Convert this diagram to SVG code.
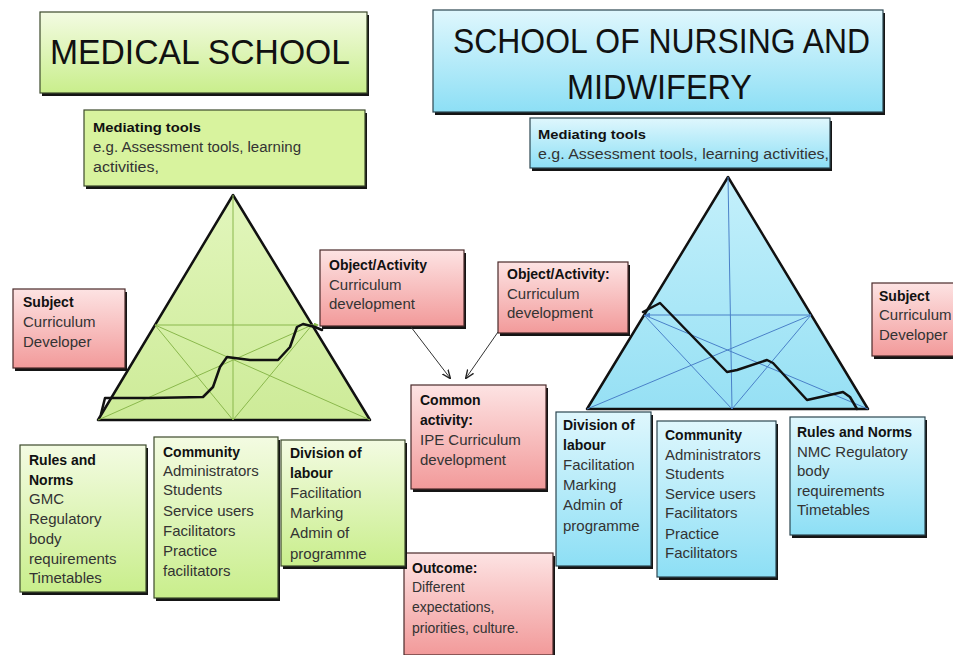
<svg xmlns="http://www.w3.org/2000/svg" width="953" height="655" viewBox="0 0 953 655">
<defs>
<linearGradient id="gG" x1="0" y1="0" x2="0" y2="1"><stop offset="0" stop-color="#f3fbe2"/><stop offset="1" stop-color="#c9ee8c"/></linearGradient>
<linearGradient id="gB" x1="0" y1="0" x2="0" y2="1"><stop offset="0" stop-color="#dff7fd"/><stop offset="1" stop-color="#8ddff5"/></linearGradient>
<linearGradient id="gR" x1="0" y1="0" x2="0" y2="1"><stop offset="0" stop-color="#fde3e3"/><stop offset="1" stop-color="#f29a9a"/></linearGradient>
<linearGradient id="tG" x1="0" y1="0" x2="0" y2="1"><stop offset="0" stop-color="#e2f6bc"/><stop offset="1" stop-color="#cdeb98"/></linearGradient>
<linearGradient id="tB" x1="0" y1="0" x2="0" y2="1"><stop offset="0" stop-color="#c4f0fb"/><stop offset="1" stop-color="#96e0f4"/></linearGradient>
<marker id="arr" viewBox="0 0 10 10" refX="9" refY="5" markerWidth="9" markerHeight="9" orient="auto"><path d="M0,1 L10,5 L0,9" fill="none" stroke="#222" stroke-width="1.5"/></marker>
<marker id="ag" viewBox="0 0 10 10" refX="8" refY="5" markerWidth="5" markerHeight="5" orient="auto"><path d="M0,0 L10,5 L0,10 z" fill="#8ab84c"/></marker>
<marker id="ab" viewBox="0 0 10 10" refX="8" refY="5" markerWidth="5" markerHeight="5" orient="auto"><path d="M0,0 L10,5 L0,10 z" fill="#4a80c8"/></marker>
</defs>
<style>
.sh{fill:#151515}
.g{fill:url(#gG);stroke:#3c4a2c;stroke-width:1.2}
.b{fill:url(#gB);stroke:#2c4650;stroke-width:1.2}
.r{fill:url(#gR);stroke:#4a2a2a;stroke-width:1.2}
text{font-family:"Liberation Sans",Arial,sans-serif;font-size:15px;fill:#333}
.h{font-weight:bold;font-size:14px;fill:#111}
.m{font-size:14px}
.t{font-size:35px;fill:#111}
.tri{stroke:#111;stroke-width:2.5;stroke-linejoin:round}
.ig{stroke:#8ab84c;stroke-width:1;fill:none}
.ib{stroke:#4a80c8;stroke-width:1;fill:none}
.wig{fill:none;stroke:#111;stroke-width:2.5;stroke-linejoin:round;stroke-linecap:round}
.con{stroke:#333;stroke-width:1;fill:none}
</style>

<g id="title-medical">
<rect class="sh" x="42" y="15" width="327" height="81"/>
<rect class="g" x="40" y="12" width="327" height="81"/>
<text class="t" x="50" y="64" textLength="300" lengthAdjust="spacingAndGlyphs">MEDICAL SCHOOL</text>
</g>

<g id="title-nursing">
<rect class="sh" x="435" y="13" width="450" height="102"/>
<rect class="b" x="433" y="10" width="450" height="102"/>
<text class="t" x="453" y="53" textLength="417" lengthAdjust="spacingAndGlyphs">SCHOOL OF NURSING AND</text>
<text class="t" x="567" y="99" textLength="185" lengthAdjust="spacingAndGlyphs">MIDWIFERY</text>
</g>

<g id="tools-left">
<rect class="sh" x="86" y="113" width="281" height="76"/>
<rect class="g" x="84" y="110" width="281" height="76" style="fill:#d8f39e"/>
<text class="h" x="93" y="132" style="font-size:13px" textLength="108" lengthAdjust="spacingAndGlyphs">Mediating tools</text>
<text class="m" x="93" y="152" textLength="208" lengthAdjust="spacingAndGlyphs">e.g. Assessment tools, learning</text>
<text class="m" x="93" y="172" textLength="66" lengthAdjust="spacingAndGlyphs">activities,</text>
</g>

<g id="tools-right">
<rect class="sh" x="532" y="121" width="300" height="50"/>
<rect class="b" x="530" y="118" width="300" height="50"/>
<text class="h" x="538" y="139" style="font-size:13px" textLength="108" lengthAdjust="spacingAndGlyphs">Mediating tools</text>
<text class="m" x="538" y="159" textLength="291" lengthAdjust="spacingAndGlyphs">e.g. Assessment tools, learning activities,</text>
</g>

<g id="triangle-left">
<polygon class="tri" points="233,195 98,420 370,420" fill="url(#tG)"/>
<line class="ig" x1="155" y1="325" x2="318" y2="325" marker-end="url(#ag)"/>
<line class="ig" x1="233" y1="195" x2="233" y2="420"/>
<line class="ig" x1="155" y1="325" x2="233" y2="420"/>
<line class="ig" x1="155" y1="325" x2="370" y2="420"/>
<line class="ig" x1="312" y1="325" x2="233" y2="420"/>
<line class="ig" x1="312" y1="325" x2="98" y2="420"/>
<polyline class="wig" points="101,414 105,398 150,398 203,397 213,387 220,367 227,357 250,360 278,360 290,347 297,327 303,324 315,327 322,330"/>
</g>

<g id="triangle-right">
<polygon class="tri" points="728,177 587,409 868,409" fill="url(#tB)"/>
<line class="ib" x1="811" y1="315" x2="646" y2="315" marker-end="url(#ab)"/>
<line class="ib" x1="728" y1="177" x2="732" y2="409"/>
<line class="ib" x1="644" y1="315" x2="732" y2="409"/>
<line class="ib" x1="644" y1="315" x2="868" y2="409"/>
<line class="ib" x1="811" y1="315" x2="732" y2="409"/>
<line class="ib" x1="811" y1="315" x2="587" y2="409"/>
<polyline class="wig" points="643,312 660,303 727,372 737,370 767,360 773,363 807,400 843,392 850,397 857,409"/>
</g>

<g id="subject-left">
<rect class="sh" x="15" y="292" width="112" height="79"/>
<rect class="r" x="13" y="289" width="112" height="79"/>
<text class="h" x="23" y="307">Subject</text>
<text x="23" y="327">Curriculum</text>
<text x="23" y="347">Developer</text>
</g>

<g id="object-left">
<rect class="sh" x="322" y="253" width="144" height="76"/>
<rect class="r" x="320" y="250" width="144" height="76"/>
<text class="h" x="329" y="270">Object/Activity</text>
<text x="329" y="290">Curriculum</text>
<text x="329" y="309">development</text>
</g>

<g id="object-right">
<rect class="sh" x="500" y="265" width="130" height="71"/>
<rect class="r" x="498" y="262" width="130" height="71"/>
<text class="h" x="507" y="279">Object/Activity:</text>
<text x="507" y="299">Curriculum</text>
<text x="507" y="318">development</text>
</g>

<g id="subject-right">
<rect class="sh" x="874" y="286" width="84" height="73"/>
<rect class="r" x="872" y="283" width="84" height="73"/>
<text class="h" x="879" y="301">Subject</text>
<text x="879" y="320">Curriculum</text>
<text x="879" y="340">Developer</text>
</g>

<g id="common-activity">
<rect class="sh" x="413" y="388" width="135" height="104"/>
<rect class="r" x="411" y="385" width="135" height="104"/>
<text class="h" x="420" y="405">Common</text>
<text class="h" x="420" y="425">activity:</text>
<text x="420" y="445">IPE Curriculum</text>
<text x="420" y="465">development</text>
</g>

<g id="outcome">
<rect class="sh" x="406" y="556" width="149" height="102"/>
<rect class="r" x="404" y="553" width="149" height="102"/>
<text class="h" x="412" y="573">Outcome:</text>
<text x="412" y="592" style="font-size:14px">Different</text>
<text x="412" y="612" style="font-size:14px">expectations,</text>
<text x="412" y="633" style="font-size:14px">priorities, culture.</text>
</g>

<g id="rules-left">
<rect class="sh" x="22" y="448" width="126" height="147"/>
<rect class="g" x="20" y="445" width="126" height="147"/>
<text class="h" x="29" y="465">Rules and</text>
<text class="h" x="29" y="485">Norms</text>
<text x="29" y="504">GMC</text>
<text x="29" y="524">Regulatory</text>
<text x="29" y="544">body</text>
<text x="29" y="564">requirements</text>
<text x="29" y="583">Timetables</text>
</g>

<g id="community-left">
<rect class="sh" x="156" y="440" width="124" height="161"/>
<rect class="g" x="154" y="437" width="124" height="161"/>
<text class="h" x="163" y="457">Community</text>
<text x="163" y="476">Administrators</text>
<text x="163" y="495">Students</text>
<text x="163" y="516">Service users</text>
<text x="163" y="536">Facilitators</text>
<text x="163" y="556">Practice</text>
<text x="163" y="576">facilitators</text>
</g>

<g id="division-left">
<rect class="sh" x="283" y="443" width="124" height="126"/>
<rect class="g" x="281" y="440" width="124" height="126"/>
<text class="h" x="290" y="458">Division of</text>
<text class="h" x="290" y="478">labour</text>
<text x="290" y="498">Facilitation</text>
<text x="290" y="518">Marking</text>
<text x="290" y="538">Admin of</text>
<text x="290" y="559">programme</text>
</g>

<g id="division-right">
<rect class="sh" x="558" y="415" width="95" height="154"/>
<rect class="b" x="556" y="412" width="95" height="154"/>
<text class="h" x="563" y="430">Division of</text>
<text class="h" x="563" y="450">labour</text>
<text x="563" y="470">Facilitation</text>
<text x="563" y="490">Marking</text>
<text x="563" y="510">Admin of</text>
<text x="563" y="531">programme</text>
</g>

<g id="community-right">
<rect class="sh" x="659" y="424" width="119" height="156"/>
<rect class="b" x="657" y="421" width="119" height="156"/>
<text class="h" x="665" y="440">Community</text>
<text x="665" y="460">Administrators</text>
<text x="665" y="479">Students</text>
<text x="665" y="499">Service users</text>
<text x="665" y="518">Facilitators</text>
<text x="665" y="539">Practice</text>
<text x="665" y="558">Facilitators</text>
</g>

<g id="rules-right">
<rect class="sh" x="792" y="420" width="135" height="118"/>
<rect class="b" x="790" y="417" width="135" height="118"/>
<text class="h" x="797" y="437">Rules and Norms</text>
<text x="797" y="457">NMC Regulatory</text>
<text x="797" y="476">body</text>
<text x="797" y="496">requirements</text>
<text x="797" y="515">Timetables</text>
</g>

<g id="connectors">
<line class="con" x1="411" y1="327" x2="450" y2="378" marker-end="url(#arr)"/>
<line class="con" x1="498" y1="332" x2="466" y2="378" marker-end="url(#arr)"/>
</g>
</svg>
